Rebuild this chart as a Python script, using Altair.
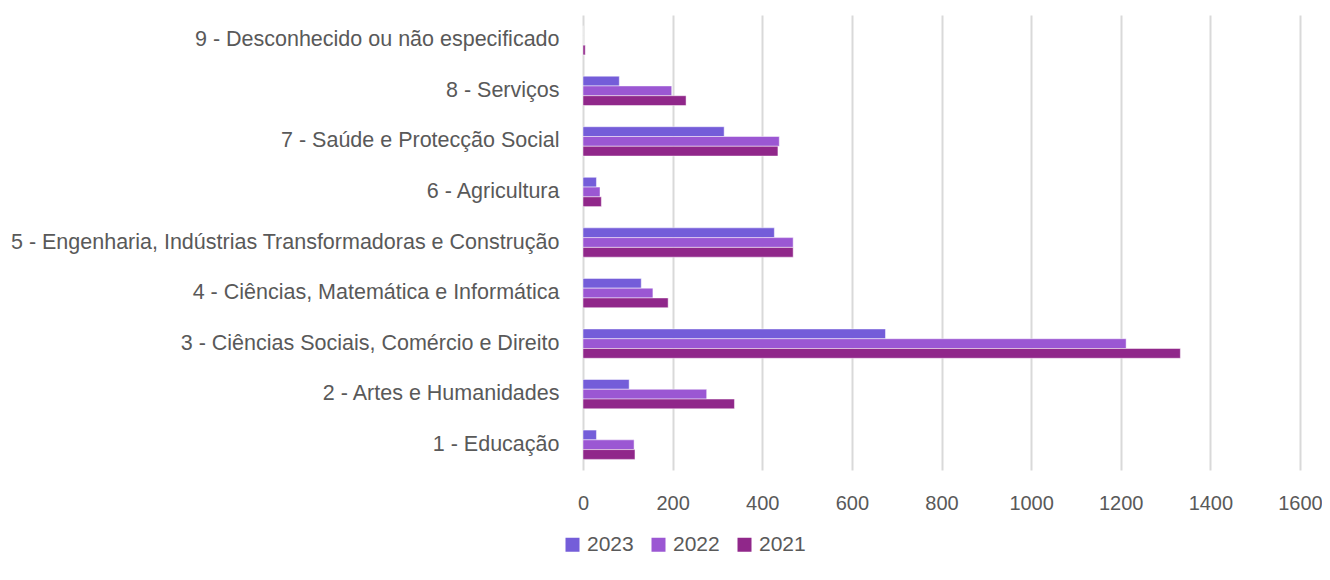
import altair as alt
import pandas as pd

categories = [
    "1 - Educação",
    "2 - Artes e Humanidades",
    "3 - Ciências Sociais, Comércio e Direito",
    "4 - Ciências, Matemática e Informática",
    "5 - Engenharia, Indústrias Transformadoras e Construção",
    "6 - Agricultura",
    "7 - Saúde e Protecção Social",
    "8 - Serviços",
    "9 - Desconhecido ou não especificado",
]
v2023 = [30, 103, 675, 130, 427, 30, 315, 81, 0]
v2022 = [114, 276, 1212, 156, 469, 38, 438, 198, 0]
v2021 = [116, 338, 1333, 190, 469, 41, 435, 230, 5]
years = ["2023", "2022", "2021"]
colors = ["#745DD9", "#9B57D3", "#90278A"]

rows = []
for series, vals in zip(years, [v2023, v2022, v2021]):
    for c, v in zip(categories, vals):
        rows.append({"cat": c, "year": series, "value": v})
df = pd.DataFrame(rows)

FONT = "Liberation Sans"

chart = alt.Chart(df).mark_bar(
    stroke="#ffffff", strokeWidth=0.8, strokeOpacity=0.6
).encode(
    y=alt.Y("cat:N", sort=categories[::-1], title=None,
            scale=alt.Scale(paddingInner=0.42, paddingOuter=0.21),
            axis=alt.Axis(domain=False, ticks=False, labelPadding=24,
                          labelFontSize=21.5, labelColor="#595959",
                          labelFont=FONT, labelLimit=700)),
    x=alt.X("value:Q", title=None,
            scale=alt.Scale(domain=[0, 1600]),
            axis=alt.Axis(values=list(range(0, 1601, 200)), format="d",
                          domain=False, ticks=False, labelFlush=False,
                          grid=True, gridColor="#d9d9d9", gridWidth=2,
                          labelPadding=23, labelFontSize=20, labelColor="#595959",
                          labelFont=FONT)),
    yOffset=alt.YOffset("year:N", sort=years),
    color=alt.Color("year:N", sort=years,
                    scale=alt.Scale(domain=years, range=colors),
                    legend=alt.Legend(title=None, orient="none", direction="horizontal",
                                      legendX=-21, legendY=519, symbolType="square",
                                      symbolSize=196, symbolStrokeWidth=0,
                                      labelFontSize=21, labelColor="#595959",
                                      labelFont=FONT, columnPadding=14, labelOffset=4)),
).properties(
    width=717, height=455,
    autosize=alt.AutoSizeParams(type="none"),
    padding={"left": 575, "top": 7, "right": 22, "bottom": 95},
).configure_view(stroke=None)

chart.save("out.html", embed_options={"renderer": "svg", "actions": False})
